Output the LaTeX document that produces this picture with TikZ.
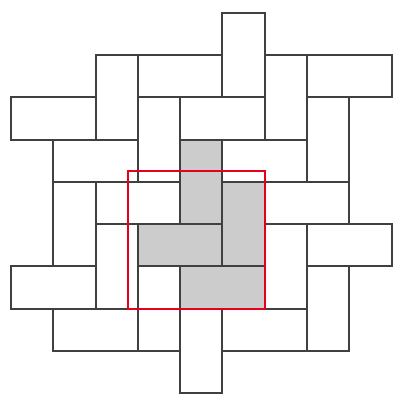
\documentclass[tikz,border=0pt]{standalone}
\usetikzlibrary{backgrounds}
\definecolor{tedge}{HTML}{404040}
\definecolor{tfill}{HTML}{CCCCCC}
\definecolor{tred}{HTML}{E6001E}
\tikzset{
  tile/.style={draw=tedge, fill=white, line width=1.3pt},
  shaded/.style={tile, fill=tfill},
  frame/.style={draw=tred, line width=1.6pt},
}
\begin{document}
\begin{tikzpicture}[y=-1cm]
  \useasboundingbox (-0.26,-0.3) rectangle (9.015,9.04);
  % lying bricks, top-left corner, 2 wide 1 high
  \foreach \x/\y in {3/1,7/1,0/2,4/2,1/3,5/3,2/4,6/4,7/5,0/6,1/7,5/7}
    \draw[tile] (\x,\y) rectangle ++(2,1);
  % standing bricks, 1 wide 2 high
  \foreach \x/\y in {5/0,2/1,6/1,3/2,7/2,1/4,2/5,6/5,3/6,7/6,4/7}
    \draw[tile] (\x,\y) rectangle ++(1,2);
  % the grey pinwheel in the middle
  \foreach \x/\y in {4/3,5/4} \draw[shaded] (\x,\y) rectangle ++(1,2);
  \foreach \x/\y in {3/5,4/6} \draw[shaded] (\x,\y) rectangle ++(2,1);
  \draw[frame] (2.77,3.75) rectangle (6,7);
\end{tikzpicture}
\end{document}
